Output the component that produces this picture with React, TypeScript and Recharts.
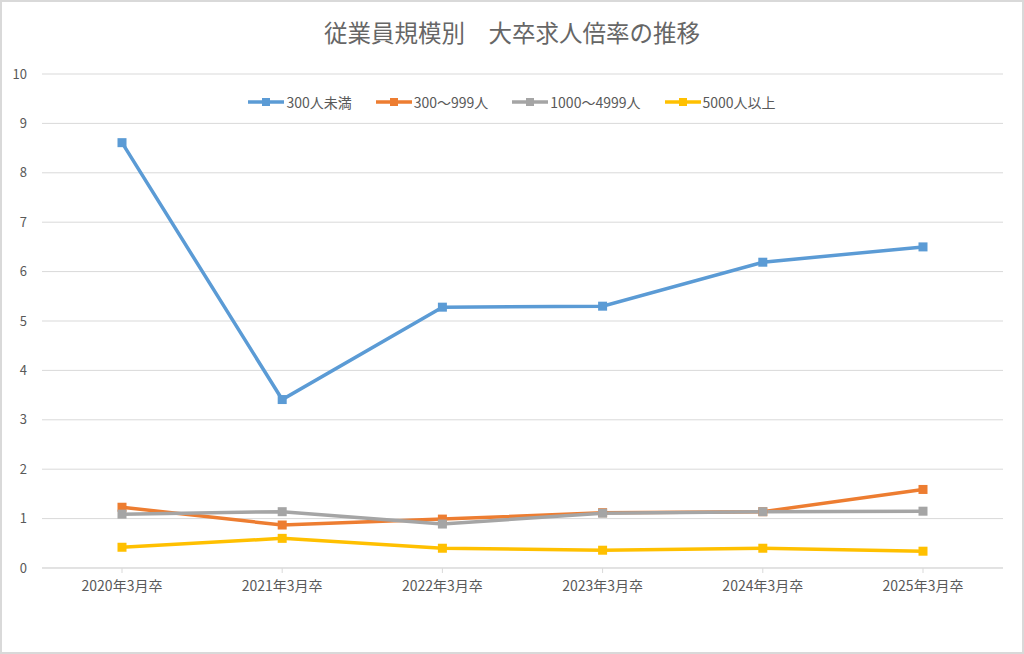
import { CartesianGrid, Line, LineChart, XAxis, YAxis } from "recharts";

const categories = [
  "2020年3月卒",
  "2021年3月卒",
  "2022年3月卒",
  "2023年3月卒",
  "2024年3月卒",
  "2025年3月卒",
];

const under300 = [8.61, 3.41, 5.28, 5.3, 6.19, 6.5];
const from300to999 = [1.23, 0.87, 0.99, 1.12, 1.14, 1.59];
const from1000to4999 = [1.09, 1.14, 0.89, 1.11, 1.14, 1.15];
const over5000 = [0.42, 0.6, 0.4, 0.36, 0.4, 0.34];

const yTicks = [0, 1, 2, 3, 4, 5, 6, 7, 8, 9, 10];

const series = [
  { key: "s1", name: "300人未満", color: "#5B9BD5", values: under300 },
  { key: "s2", name: "300～999人", color: "#ED7D31", values: from300to999 },
  { key: "s3", name: "1000～4999人", color: "#A5A5A5", values: from1000to4999 },
  { key: "s4", name: "5000人以上", color: "#FFC000", values: over5000 },
];

const data = categories.map((c, i) => {
  const row: Record<string, string | number> = { cat: c };
  series.forEach((s) => (row[s.key] = s.values[i]));
  return row;
});

const FONT = "'Noto Sans CJK JP', 'Noto Sans', sans-serif";
const TEXT = "#595959";

function SquareDot(color: string) {
  return (props: any) => {
    const { cx, cy, index } = props;
    if (cx == null || cy == null) return <g key={index} />;
    return (
      <rect key={index} x={cx - 4.5} y={cy - 4.5} width={9} height={9} fill={color} />
    );
  };
}

export default function App() {
  return (
    <div
      style={{
        position: "absolute",
        left: 0,
        top: 0,
        width: 1024,
        height: 654,
        background: "#fff",
        fontFamily: FONT,
      }}
    >
      <div
        style={{
          position: "absolute",
          top: 17,
          left: 0,
          width: 1024,
          lineHeight: "30px",
          textAlign: "center",
          fontSize: 23.5,
          color: "#666",
        }}
      >
        従業員規模別　大卒求人倍率の推移
      </div>
      <div
        style={{
          position: "absolute",
          top: 92,
          left: 0,
          width: 1024,
          height: 20,
          display: "flex",
          justifyContent: "center",
          alignItems: "center",
          gap: 24,
          fontSize: 14,
          color: TEXT,
        }}
      >
        {series.map((s) => (
          <div key={s.key} style={{ display: "flex", alignItems: "center" }}>
            <svg width={36} height={12} style={{ marginRight: 2 }}>
              <line x1={0} y1={6} x2={36} y2={6} stroke={s.color} strokeWidth={3.5} />
              <rect x={14} y={2} width={8} height={8} fill={s.color} />
            </svg>
            <span>{s.name}</span>
          </div>
        ))}
      </div>
      <LineChart
        width={1024}
        height={654}
        data={data}
        margin={{ top: 74, right: 21, bottom: 56, left: 0 }}
        style={{ position: "absolute", left: 0, top: 0 }}
      >
        <CartesianGrid vertical={false} stroke="#d9d9d9" strokeWidth={1} />
        <XAxis
          dataKey="cat"
          height={30}
          padding={{ left: 80, right: 80 }}
          axisLine={{ stroke: "#d9d9d9" }}
          tickLine={{ stroke: "#d9d9d9" }}
          tickSize={5}
          tickMargin={8}
          tick={{ fill: TEXT, fontSize: 14 }}
          interval={0}
        />
        <YAxis
          width={42}
          domain={[0, 10]}
          ticks={yTicks}
          axisLine={false}
          tickLine={false}
          tickSize={0}
          tickMargin={15}
          tick={{ fill: TEXT, fontSize: 13 }}
        />
        {series.map((s) => (
          <Line
            key={s.key}
            type="linear"
            dataKey={s.key}
            name={s.name}
            stroke={s.color}
            strokeWidth={3.5}
            dot={SquareDot(s.color)}
            activeDot={false}
            isAnimationActive={false}
          />
        ))}
      </LineChart>
      <div
        style={{
          position: "absolute",
          left: 0,
          top: 0,
          width: 1024,
          height: 654,
          boxSizing: "border-box",
          border: "2px solid #d9d9d9",
          pointerEvents: "none",
        }}
      />
    </div>
  );
}
